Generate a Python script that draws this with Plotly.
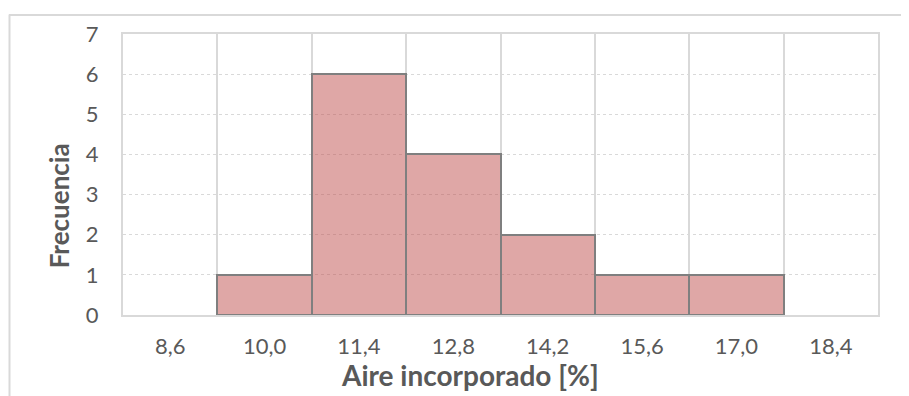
import plotly.graph_objects as go

categories = ["8,6", "10,0", "11,4", "12,8", "14,2", "15,6", "17,0", "18,4"]
frequencies = [0, 1, 6, 4, 2, 1, 1, 0]
x_title = "Aire incorporado [%]"
y_title = "Frecuencia"

# page is offset by the 8px body margin
OFF = 8
W, H = 909 - OFF, 396 - OFF
L, R, T, B = 115, 31, 20, 81
pw, ph = W - L - R, H - T - B

def px(x):
    return (x - OFF - L) / pw

def py(y):
    return (H - B - (y - OFF)) / ph

text_color = "#595959"
grid_color = "#d9d9d9"
font_family = "Lato, 'Open Sans', sans-serif"

fig = go.Figure()
fig.add_trace(go.Bar(
    x=categories,
    y=frequencies,
    marker=dict(
        color="rgba(192,80,77,0.5)",
        line=dict(color="#7f7f7f", width=[0 if v == 0 else 2 for v in frequencies]),
    ),
    hoverinfo="x+y",
))

fig.update_layout(
    width=W, height=H,
    margin=dict(l=L, r=R, t=T, b=B),
    paper_bgcolor="white",
    plot_bgcolor="white",
    bargap=0,
    showlegend=False,
    font=dict(family=font_family, color=text_color, size=22),
    xaxis=dict(
        type="category",
        tickson="boundaries",
        showgrid=True,
        gridcolor=grid_color,
        gridwidth=2,
        showline=True,
        linecolor=grid_color,
        linewidth=2,
        mirror=True,
        ticks="",
        ticklabelstandoff=11,
        tickfont=dict(size=22, color=text_color),
        range=[-0.5, 7.5],
    ),
    yaxis=dict(
        range=[0, 7],
        dtick=1,
        showgrid=True,
        gridcolor=grid_color,
        gridwidth=1,
        griddash="dot",
        zeroline=False,
        showline=True,
        linecolor=grid_color,
        linewidth=2,
        mirror=True,
        ticks="",
        ticklabelstandoff=18,
        tickfont=dict(size=22, color=text_color),
    ),
    shapes=[
        dict(type="line", xref="paper", yref="paper",
             x0=px(9), x1=px(920), y0=py(8.5), y1=py(8.5),
             line=dict(color=grid_color, width=2)),
        dict(type="line", xref="paper", yref="paper",
             x0=px(9.5), x1=px(9.5), y0=py(8), y1=py(410),
             line=dict(color=grid_color, width=2)),
    ],
    annotations=[
        dict(text=x_title, xref="paper", yref="paper",
             x=px(470), y=py(376), xanchor="center", yanchor="middle",
             showarrow=False,
             font=dict(family=font_family, size=28, color=text_color, weight="bold")),
        dict(text=y_title, xref="paper", yref="paper",
             x=px(59), y=py(204), xanchor="center", yanchor="middle",
             textangle=-90, showarrow=False,
             font=dict(family=font_family, size=26, color=text_color, weight="bold")),
    ],
)

fig.write_html("out.html")
